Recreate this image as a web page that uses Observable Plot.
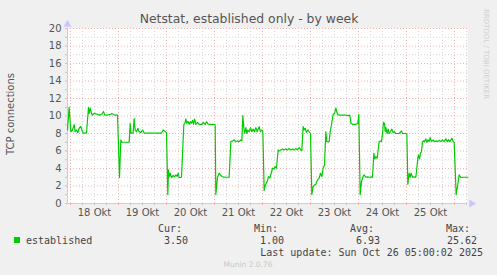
<!DOCTYPE html>
<html><head><meta charset="utf-8">
<script src="https://cdn.jsdelivr.net/npm/d3@7"></script>
<script src="https://cdn.jsdelivr.net/npm/@observablehq/plot@0.6"></script>
<style>
html,body{margin:0;padding:0;background:#f0f0f0;}
#wrap{position:relative;width:497px;height:275px;overflow:hidden;background:#f0f0f0;}
#wrap svg{position:absolute;left:0;top:0;}
</style></head><body><div id="wrap"></div>
<script>
// hours since 18 Oct 2025 00:00
const hours = [-1.5,-0.67,0.17,1,1.83,2.33,3,3.67,4.33,5.17,5.67,6.33,8,9,9.33,9.83,10.5,11,11.83,13.5,14.33,15.67,16.5,17.17,18.5,20.17,20.67,21.83,23.5,24.5,25.17,25.67,29.33,29.83,30.17,31.33,31.83,32.33,33,33.67,34.33,35.17,36,36.83,45.5,46.33,48,48.67,49,49.33,49.83,50.5,51.33,52,52.67,53.33,53.83,54.33,55.5,56.67,57.17,57.67,58.17,58.67,59.33,59.83,60.33,61,61.5,62,62.67,63.5,64.33,65.67,66.33,67.33,68,68.67,69.33,70.67,71.83,72.33,72.67,73.5,74.33,75.17,76,77.67,79.33,80.17,81,81.83,82.67,83.5,84.33,85.17,85.67,86.17,86.67,87.17,87.67,88.17,88.67,89.33,90,90.67,91.33,92,92.67,93.33,94.33,95,95.67,96.17,96.83,97.33,98.33,99,99.67,100.33,101,101.67,102.33,103,103.83,104.33,105.17,106,106.83,107.67,108.5,109.33,110.17,111,111.83,112.67,113.5,114.33,115.17,115.67,116.33,116.83,117.33,118,118.67,119.33,120,120.67,121.33,122,122.67,123.5,124.33,125,125.67,126.33,127,127.67,128.17,129.33,129.83,130.5,131.33,132,132.67,133.5,134.33,136,137.67,139,139.67,140.17,141,142.67,143.67,144.17,144.83,145.5,146.33,146.83,147.67,148.5,149.33,150.67,151,151.67,152.17,152.67,153.33,153.83,154.33,154.83,155.5,156,156.5,157,157.33,157.67,158.33,158.83,159.33,160,160.67,161.33,161.83,162.67,164.33,165.5,166,167.67,168.17,168.67,169.33,169.83,170.33,171,171.83,172.67,173.67,174,174.5,175,175.5,176,176.5,177,177.67,178.17,178.67,179.33,179.83,180.5,181.33,182,183,183.67,184.33,185.17,186,186.83,187.67,188.5,189,189.67,190.67,191.33,191.83,192.83,193.5,194.33,195.17,196,198.67];
const conns = [8.4,11.0,8.2,8.4,9.0,8.2,8.4,8.1,8.6,8.8,8.4,8.05,8.05,11.0,10.3,10.9,10.3,10.1,10.3,10.2,10.1,10.2,10.5,10.1,10.1,10.2,10.3,10.1,10.1,2.97,7.26,7.0,7.0,9.16,8.05,8.05,9.7,8.4,8.2,8.6,8.2,8.1,8.4,8.05,8.05,8.4,8.1,1.0,3.84,3.08,3.46,2.97,3.2,3.04,3.27,3.1,3.46,2.97,3.0,9.05,9.16,9.66,9.16,9.4,9.05,9.35,9.16,9.5,9.05,9.66,9.05,9.28,9.05,9.05,9.28,9.05,9.35,9.12,9.05,9.05,9.05,9.0,1.0,3.0,3.46,3.2,3.04,3.0,3.0,7.07,7.15,7.26,7.07,7.15,7.07,7.26,7.15,10.04,8.6,8.0,8.67,8.0,8.4,8.2,8.67,8.2,8.5,8.2,8.67,8.2,8.78,8.2,8.4,8.2,1.5,2.05,2.5,3.08,2.9,3.46,4.03,3.95,4.2,4.03,6.12,6.0,6.12,6.24,6.12,6.24,6.12,6.3,6.1,6.24,6.1,6.3,6.12,6.39,6.1,6.05,8.78,8.4,8.6,8.14,8.4,8.2,8.0,1.0,1.94,2.1,2.2,2.7,2.9,3.46,3.08,4.03,4.4,8.2,7.07,7.07,8.2,9.0,10.2,10.3,10.9,10.2,10.1,10.1,10.1,10.04,10.1,9.16,9.05,9.05,9.16,10.2,1.0,2.5,3.08,3.27,3.0,3.04,3.0,3.04,3.0,5.74,5.1,5.35,5.17,6.12,7.07,7.15,7.07,8.0,9.28,9.16,8.2,8.67,8.0,8.5,8.0,8.2,8.5,8.1,8.2,8.0,8.0,8.3,8.0,8.0,8.0,2.2,3.46,3.0,3.46,3.0,3.04,3.0,5.17,5.55,5.1,5.74,5.93,7.07,7.15,7.07,7.38,7.0,7.26,7.07,7.53,7.07,7.26,7.07,7.15,7.07,7.22,7.07,7.26,7.07,7.38,7.07,7.3,7.07,7.45,7.07,7.0,1.0,1.94,3.27,2.97,3.0,3.0];
const dayLabels = ["18 Okt","19 Okt","20 Okt","21 Okt","22 Okt","23 Okt","24 Okt","25 Okt"];
const yTickValues = [0,2,4,6,8,10,12,14,16,18,20];
const statLabels = ["Cur:","Min:","Avg:","Max:"];
const statValues = ["3.50","1.00","6.93","25.62"];
const seriesName = "established";
const titleText = "Netstat, established only - by week";
const yLabelText = "TCP connections";
const updateText = "Last update: Sun Oct 26 05:00:02 2025";
const sideText = "RRDTOOL / TOBI OETIKER";
const footerText = "Munin 2.0.76";

const data = hours.map((h, i) => ({h, v: conns[i]}));
const xDomain = [-1.5, 198.5];
const majorX = d3.range(0, 199, 24);
const minorX = d3.range(0, 199, 6).filter(h => h % 24 !== 0);
const majorY = yTickValues.filter(v => v > 0);
const minorY = d3.range(1, 20, 2);
const labelX = dayLabels.map((_, i) => 12 + 24 * i);
const axisCol = "#c8c8ff";
const gridGray = "#d6d6d6";
const gridRed = "#f5b0b0";

const chart = Plot.plot({
  width: 497, height: 275,
  marginLeft: 67, marginRight: 30, marginTop: 28, marginBottom: 72,
  style: {background: "transparent", fontFamily: "DejaVu Sans", fontSize: "10px", color: "#555"},
  x: {domain: xDomain, axis: null},
  y: {domain: [0, 20], axis: null},
  marks: [
    Plot.frame({fill: "white", stroke: null}),
    Plot.ruleX(minorX, {stroke: gridGray, strokeDasharray: "1,2"}),
    Plot.ruleY(minorY, {stroke: gridGray, strokeDasharray: "1,2"}),
    Plot.ruleX(majorX, {stroke: gridRed, strokeDasharray: "1,2"}),
    Plot.ruleY(majorY, {stroke: gridRed, strokeDasharray: "1,2"}),
    Plot.axisY(minorY, {tickSize: 2, tickFormat: () => "", stroke: "#c4c4c4", label: null}),
    Plot.axisY(yTickValues, {tickSize: 2, tickPadding: 4, stroke: gridRed, fill: "#555", fontSize: 10, label: null}),
    Plot.axisX(minorX, {tickSize: 2, tickFormat: () => "", stroke: "#c4c4c4", label: null}),
    Plot.axisX(majorX, {tickSize: 2, tickFormat: () => "", stroke: gridRed, label: null}),
    Plot.axisX(labelX, {tickSize: 0, tickPadding: 5, tickFormat: d => dayLabels[Math.round((d - 12) / 24)], fill: "#555", fontSize: 10, label: null}),
    Plot.ruleY([0], {stroke: axisCol}),
    Plot.ruleX([xDomain[0]], {stroke: axisCol}),
    Plot.line(data, {x: "h", y: "v", stroke: "#00cc00", strokeWidth: 1.2}),
    Plot.dot([0], {frameAnchor: "top-left", symbol: "triangle", r: 3, fill: axisCol, stroke: null, dy: -4}),
    Plot.dot([0], {frameAnchor: "bottom-right", symbol: "triangle", r: 3, fill: axisCol, stroke: null, rotate: 90, dx: 4})
  ]
});
const wrap = document.getElementById("wrap");
wrap.appendChild(chart);

// text overlay
const ov = d3.select(wrap).append("svg").attr("width", 497).attr("height", 275)
  .style("pointer-events", "none");
ov.append("text").attr("x", 249).attr("y", 23).attr("text-anchor", "middle")
  .attr("font-family", "DejaVu Sans").attr("font-size", 12.4).attr("fill", "#555").text(titleText);
ov.append("text").attr("transform", "translate(14,114) rotate(-90)").attr("text-anchor", "middle")
  .attr("font-family", "DejaVu Sans").attr("font-size", 10).attr("fill", "#555").text(yLabelText);
ov.append("text").attr("transform", "translate(484,54) rotate(90)").attr("text-anchor", "middle")
  .attr("font-family", "DejaVu Sans").attr("font-size", 7).attr("fill", "#cfcfcf").text(sideText);
const mono = "DejaVu Sans Mono";
ov.append("rect").attr("x", 14).attr("y", 237).attr("width", 6).attr("height", 6).attr("fill", "#00cc00");
ov.append("text").attr("x", 26).attr("y", 243.5).attr("font-family", mono).attr("font-size", 10).attr("fill", "#444").text(seriesName);
const labelRight = [182, 278, 374, 470];
const valueRight = [188, 284, 380, 477];
statLabels.forEach((s, i) => {
  ov.append("text").attr("x", labelRight[i]).attr("y", 231.5).attr("text-anchor", "end")
    .attr("font-family", mono).attr("font-size", 10).attr("fill", "#444").text(s);
  ov.append("text").attr("x", valueRight[i]).attr("y", 243.5).attr("text-anchor", "end")
    .attr("font-family", mono).attr("font-size", 10).attr("fill", "#444").text(statValues[i]);
});
ov.append("text").attr("x", 483).attr("y", 255.5).attr("text-anchor", "end")
  .attr("font-family", mono).attr("font-size", 10).attr("fill", "#444").text(updateText);
ov.append("text").attr("x", 248).attr("y", 267).attr("text-anchor", "middle")
  .attr("font-family", "DejaVu Sans").attr("font-size", 7.5).attr("fill", "#c8c8c8").text(footerText);
</script>
</body></html>
